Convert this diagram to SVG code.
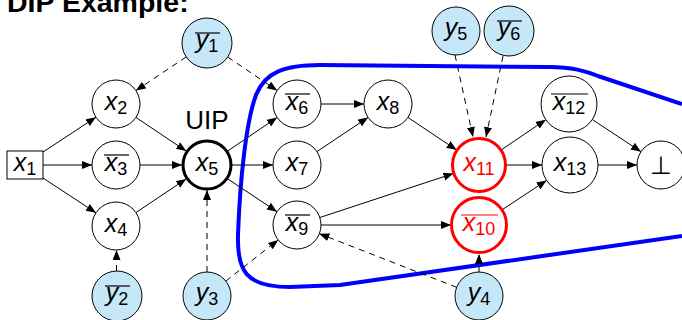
<svg xmlns="http://www.w3.org/2000/svg" width="682" height="320" viewBox="0 0 682 320">
<defs>
<marker id="ah" markerUnits="userSpaceOnUse" markerWidth="11" markerHeight="9" refX="10" refY="4" orient="auto">
<path d="M0,0 L10,4 L0,8 z" fill="#000"/>
</marker>
<style>
.n{fill:#fff;stroke:#000;stroke-width:1}
.y{fill:#c6e7f8;stroke:#000;stroke-width:1}
.uip{fill:#fff;stroke:#000;stroke-width:3}
.red{fill:#fff;stroke:#f00;stroke-width:3}
.lb{font-family:"Liberation Sans",Arial,sans-serif;font-size:25px;text-anchor:middle;fill:#000}
.lb .v{font-style:italic}
.lb .s{font-size:18px}
.rt{fill:#f00}
.ol{stroke:#000;stroke-width:1.2}
.olr{stroke:#f00;stroke-width:1.2}
.e{stroke:#000;stroke-width:1;fill:none;marker-end:url(#ah)}
.d{stroke:#000;stroke-width:1;fill:none;stroke-dasharray:6 5;marker-end:url(#ah)}
</style>
</defs>
<rect width="682" height="320" fill="#fff"/>
<text x="7" y="12" font-family="Liberation Sans,Arial,sans-serif" font-size="28.5" font-weight="bold">DIP Example:</text>
<path d="M682,104 L598,76 C585,71 572,67 550,67 L320,65 C285,65 265,72 256,95 C246,122 240,180 238,235 C237,270 245,287 290,287 L340,285 L682,236" fill="none" stroke="#0000ff" stroke-width="4"/>
<g id="connectors">
<line class="e" x1="43" y1="152" x2="96" y2="117.2"/>
<line class="e" x1="43" y1="165" x2="92" y2="165"/>
<line class="e" x1="43" y1="178" x2="96" y2="212.8"/>
<line class="e" x1="135.9" y1="117.4" x2="186.2" y2="151.1"/>
<line class="e" x1="140" y1="165" x2="182" y2="165"/>
<line class="e" x1="135.9" y1="212.6" x2="186.2" y2="178.9"/>
<line class="d" x1="186.2" y1="56.9" x2="135.9" y2="90.6"/>
<line class="d" x1="227.7" y1="57" x2="277.1" y2="90.5"/>
<line class="d" x1="116.5" y1="271" x2="116.5" y2="250"/>
<line class="d" x1="207" y1="272" x2="207" y2="190"/>
<line class="d" x1="225.8" y1="281.1" x2="278.2" y2="239.9"/>
<line class="e" x1="227.7" y1="151" x2="277.1" y2="117.5"/>
<line class="e" x1="232" y1="165" x2="273" y2="165"/>
<line class="e" x1="227.8" y1="178.9" x2="277" y2="211.7"/>
<line class="e" x1="321" y1="104" x2="364" y2="104"/>
<line class="e" x1="316.9" y1="151.6" x2="368.1" y2="117.4"/>
<line class="e" x1="407.9" y1="117.4" x2="456.6" y2="150"/>
<line class="e" x1="319.8" y1="217.5" x2="453.4" y2="173.5"/>
<line class="e" x1="321" y1="225" x2="451" y2="225"/>
<line class="d" x1="455" y1="55" x2="473" y2="137"/>
<line class="d" x1="503" y1="56" x2="486" y2="137"/>
<line class="d" x1="479" y1="272" x2="479" y2="254"/>
<line class="d" x1="456.7" y1="287.3" x2="319.3" y2="233.7"/>
<line class="e" x1="501.4" y1="149.8" x2="545.8" y2="119.7"/>
<line class="e" x1="506" y1="165" x2="542" y2="165"/>
<line class="e" x1="502.4" y1="209.6" x2="546.6" y2="180.4"/>
<line class="e" x1="592.3" y1="119.5" x2="641" y2="151.7"/>
<line class="e" x1="598" y1="165" x2="637" y2="165"/>
</g>
<g id="x1"><rect class="n" x="7" y="151" width="36" height="28"/><text class="lb" x="25" y="171"><tspan class="v">x</tspan><tspan class="s" dy="4">1</tspan></text></g>
<g id="x2"><circle class="n" cx="116" cy="104" r="24"/><text class="lb" x="116" y="110"><tspan class="v">x</tspan><tspan class="s" dy="4">2</tspan></text></g>
<g id="x3"><circle class="n" cx="116" cy="165" r="24"/><text class="lb" x="116" y="171"><tspan class="v">x</tspan><tspan class="s" dy="4">3</tspan></text><line class="ol" x1="104" y1="155" x2="129" y2="155"/></g>
<g id="x4"><circle class="n" cx="116" cy="226" r="24"/><text class="lb" x="116" y="232"><tspan class="v">x</tspan><tspan class="s" dy="4">4</tspan></text></g>
<g id="x5"><circle class="uip" cx="207" cy="165" r="24"/><text class="lb" x="207" y="171"><tspan class="v">x</tspan><tspan class="s" dy="4">5</tspan></text></g>
<text id="uip" x="207" y="129" font-family="Liberation Sans,Arial,sans-serif" font-size="26" text-anchor="middle">UIP</text>
<g id="y1"><circle class="y" cx="207" cy="43" r="25"/><text class="lb" x="207" y="48"><tspan class="v">y</tspan><tspan class="s" dy="4">1</tspan></text><line class="ol" x1="195" y1="33" x2="220" y2="33"/></g>
<g id="y2"><circle class="y" cx="117" cy="296" r="25"/><text class="lb" x="117" y="301"><tspan class="v">y</tspan><tspan class="s" dy="4">2</tspan></text><line class="ol" x1="105" y1="286" x2="130" y2="286"/></g>
<g id="y3"><circle class="y" cx="207" cy="296" r="24"/><text class="lb" x="207" y="301"><tspan class="v">y</tspan><tspan class="s" dy="4">3</tspan></text></g>
<g id="x6"><circle class="n" cx="297" cy="104" r="24"/><text class="lb" x="297" y="110"><tspan class="v">x</tspan><tspan class="s" dy="4">6</tspan></text><line class="ol" x1="285" y1="94" x2="310" y2="94"/></g>
<g id="x7"><circle class="n" cx="297" cy="165" r="24"/><text class="lb" x="297" y="171"><tspan class="v">x</tspan><tspan class="s" dy="4">7</tspan></text></g>
<g id="x9"><circle class="n" cx="297" cy="225" r="24"/><text class="lb" x="297" y="231"><tspan class="v">x</tspan><tspan class="s" dy="4">9</tspan></text><line class="ol" x1="285" y1="215" x2="310" y2="215"/></g>
<g id="x8"><circle class="n" cx="388" cy="104" r="24"/><text class="lb" x="388" y="110"><tspan class="v">x</tspan><tspan class="s" dy="4">8</tspan></text></g>
<g id="x11"><circle class="red" cx="479" cy="165" r="26.5"/><text class="lb rt" x="479" y="171"><tspan class="v">x</tspan><tspan class="s" dy="4">11</tspan></text></g>
<g id="x10"><circle class="red" cx="479" cy="225" r="27.5"/><text class="lb rt" x="479" y="231"><tspan class="v">x</tspan><tspan class="s" dy="4">10</tspan></text><line class="olr" x1="461" y1="215" x2="498" y2="215"/></g>
<g id="x12"><circle class="n" cx="569" cy="104" r="28"/><text class="lb" x="569" y="110"><tspan class="v">x</tspan><tspan class="s" dy="4">12</tspan></text><line class="ol" x1="551" y1="94" x2="588" y2="94"/></g>
<g id="x13"><circle class="n" cx="570" cy="165" r="28"/><text class="lb" x="570" y="171"><tspan class="v">x</tspan><tspan class="s" dy="4">13</tspan></text></g>
<g id="bot"><circle class="n" cx="661" cy="165" r="24"/><text class="lb" x="661" y="174">⊥</text></g>
<g id="y5"><circle class="y" cx="456" cy="31" r="24"/><text class="lb" x="456" y="36"><tspan class="v">y</tspan><tspan class="s" dy="4">5</tspan></text></g>
<g id="y6"><circle class="y" cx="509" cy="31" r="25"/><text class="lb" x="509" y="36"><tspan class="v">y</tspan><tspan class="s" dy="4">6</tspan></text><line class="ol" x1="497" y1="21" x2="522" y2="21"/></g>
<g id="y4"><circle class="y" cx="479" cy="296" r="24"/><text class="lb" x="479" y="301"><tspan class="v">y</tspan><tspan class="s" dy="4">4</tspan></text></g>
</svg>
